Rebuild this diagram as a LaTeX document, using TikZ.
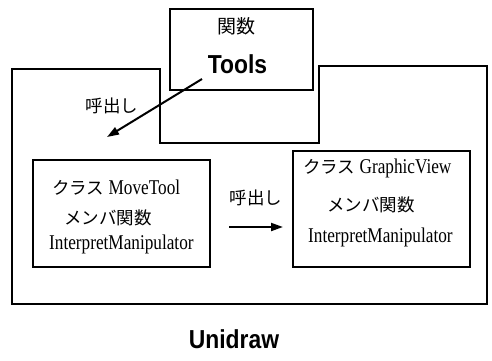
\documentclass[tikz,border=0pt]{standalone}
\usepackage{fontspec}
\usetikzlibrary{arrows.meta}
\setmainfont{Liberation Serif}
\newfontfamily\jpfont{Noto Sans CJK JP}
\newfontfamily\rmnarrow[FakeStretch=0.82]{Liberation Serif}
\newfontfamily\sfnarrow[FakeStretch=0.88]{Liberation Sans}
\newcommand{\jp}[1]{{\jpfont\fontsize{17.5}{20}\selectfont #1}}
\begin{document}
\begin{tikzpicture}[x=1pt,y=-1pt,
  frame/.style={line width=2.2pt,line join=miter},
  box/.style={draw,line width=2pt,minimum width=#1,inner sep=0pt},
  txt/.style={anchor=west,inner sep=0pt,font=\rmnarrow\fontsize{21}{24}\selectfont},
  jplabel/.style={inner sep=0pt,font=\jpfont\fontsize{17.5}{20}\selectfont},
  title/.style={inner sep=0pt,font=\sfnarrow\bfseries\fontsize{26}{30}\selectfont},
  call/.style={line width=2pt,-{Triangle[length=12pt,width=8pt]}}]
\useasboundingbox (0,0) rectangle (492,360);

% framework outline
\draw[frame] (12,69) -- (160,69) -- (160,143) -- (319,143) -- (319,66)
  -- (487,66) -- (487,304) -- (12,304) -- cycle;

% function box
\node[box=143pt,minimum height=81pt] (tools) at (241.5,49.5) {};
\node[jplabel,font=\jpfont\fontsize{19}{22}\selectfont] (toolsjp) at (236,26) {関数};
\node[title] (toolsname) at (237.5,64) {Tools};

% class boxes
\node[box=177pt,minimum height=107pt] (mv) at (121.5,213.5) {};
\node[txt] (mv1) at (52,188) {\jp{クラス} MoveTool};
\node[txt] (mv2) at (64,218) {\jp{メンバ関数}};
\node[txt] (mv3) at (49,244) {InterpretManipulator};

\node[box=177pt,minimum height=116pt] (gv) at (381.5,209) {};
\node[txt] (gv1) at (303,168) {\jp{クラス} GraphicView};
\node[txt] (gv2) at (327,205) {\jp{メンバ関数}};
\node[txt] (gv3) at (308,237) {InterpretManipulator};

% calls
\coordinate (c1s) at (202,79);
\coordinate (c1e) at (107,137);
\draw[call] (c1s) -- (c1e);
\node[jplabel] (call1) at (112,106) {呼出し};

\coordinate (c2s) at (229,227);
\coordinate (c2e) at (283,227);
\draw[call] (c2s) -- (c2e);
\node[jplabel] (call2) at (256,198) {呼出し};

% caption
\node[title] (cap) at (234,339) {Unidraw};
\end{tikzpicture}
\end{document}
